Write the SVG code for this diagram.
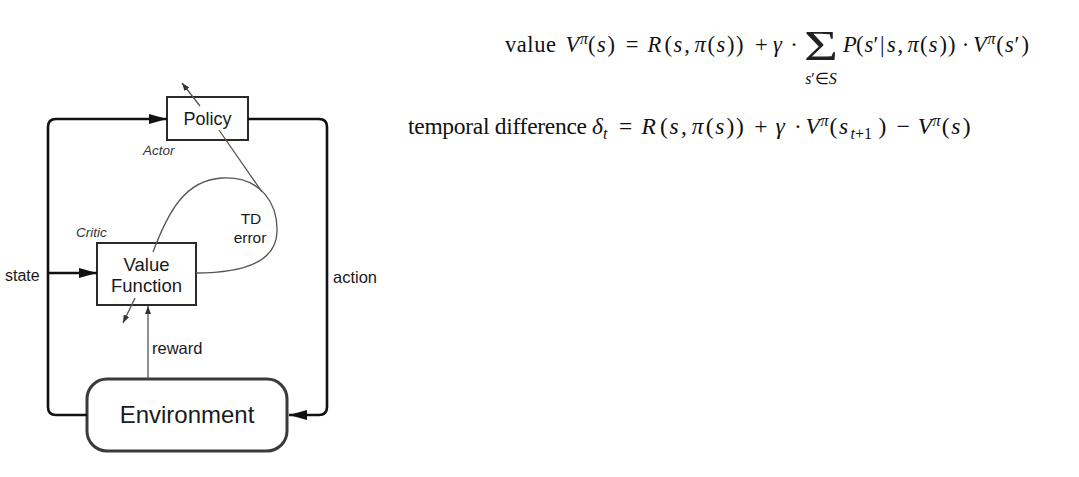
<svg xmlns="http://www.w3.org/2000/svg" width="1079" height="477" viewBox="0 0 1079 477">
<style>
.lbl{font-family:"Liberation Sans",Arial,sans-serif;fill:#1a1a1a}
.cap{font-family:"Liberation Sans",Arial,sans-serif;font-style:italic;fill:#333;font-size:13.5px}
.box{fill:#fff;stroke:#2a2a2a;stroke-width:2}
.env{fill:#fff;stroke:#3a3a3a;stroke-width:3}
.main{fill:none;stroke:#111;stroke-width:2.6;stroke-linejoin:round}
.thin{fill:none;stroke:#555;stroke-width:1.3}
.m{font-family:"Liberation Serif","Times New Roman",serif;font-size:22.5px;fill:#111}
.m2{font-family:"Liberation Serif","Times New Roman",serif;font-size:23.5px;fill:#111}
.sig{font-family:"Liberation Serif","Times New Roman",serif;font-size:43px;fill:#222}
.it{font-style:italic}
.sm{font-size:16px}
</style>
<defs>
<marker id="big" markerUnits="userSpaceOnUse" markerWidth="18" markerHeight="10" refX="18" refY="5" orient="auto">
<path d="M0,0 L18,5 L0,10 Z" fill="#111"/>
</marker>
<marker id="small" markerUnits="userSpaceOnUse" markerWidth="8" markerHeight="6" refX="8" refY="3" orient="auto">
<path d="M0,0 L8,3 L0,6 Z" fill="#333"/>
</marker>
</defs>
<rect width="1079" height="477" fill="#fff"/>

<g id="policy">
<rect class="box" x="167" y="97" width="81" height="43"/>
<text class="lbl" x="207.5" y="125" font-size="18" text-anchor="middle">Policy</text>
<text class="cap" x="143" y="155">Actor</text>
</g>

<g id="value-function">
<rect class="box" x="97" y="243" width="99" height="62"/>
<text class="lbl" x="146.5" y="271" font-size="18.5" text-anchor="middle">Value</text>
<text class="lbl" x="146.5" y="292" font-size="18.5" text-anchor="middle">Function</text>
<text class="cap" x="76" y="237">Critic</text>
</g>

<g id="environment">
<rect class="env" x="87" y="379" width="200" height="72" rx="20" ry="20"/>
<text class="lbl" x="187" y="423" font-size="24" text-anchor="middle">Environment</text>
</g>

<g id="connectors">
<path class="main" d="M87,415 H56 Q48,415 48,407 V127 Q48,119 56,119 H167" marker-end="url(#big)"/>
<path class="main" d="M48,273 H97" marker-end="url(#big)"/>
<path class="main" d="M248,119 H319 Q327,119 327,127 V407 Q327,415 319,415 H289" marker-end="url(#big)"/>
<path class="thin" d="M148,379 V306" marker-end="url(#small)"/>
<path class="thin" d="M200,106 L182,83" marker-end="url(#small)"/>
<path class="thin" d="M135,298 L123,323" marker-end="url(#small)"/>
<path class="thin" d="M219,130 L262,192"/>
<path class="thin" d="M153,252 C168,212 185,180 222,178 C262,176 278,205 277,232 C276,262 245,273 196,273"/>
<text class="lbl" x="5" y="281" font-size="16">state</text>
<text class="lbl" x="333" y="283" font-size="16.5">action</text>
<text class="lbl" x="152" y="354" font-size="16.5">reward</text>
<text class="lbl" x="251" y="224" font-size="15.5" text-anchor="middle">TD</text>
<text class="lbl" x="250" y="243" font-size="15.5" text-anchor="middle">error</text>
</g>

<g id="formula-value">
<text class="m" x="505" y="52" textLength="51" lengthAdjust="spacing">value</text>
<text class="m" y="52"><tspan class="it" x="565.4" y="52">V</tspan><tspan class="it sm" x="580" y="44">π</tspan><tspan x="588" y="52">(</tspan><tspan class="it" x="597" y="52">s</tspan><tspan x="607.6" y="52">)</tspan><tspan x="625.7" y="52">=</tspan><tspan class="it" x="647.5" y="52">R</tspan><tspan x="664.5" y="52">(</tspan><tspan class="it" x="673.5" y="52">s</tspan><tspan x="684.2" y="52">,</tspan><tspan class="it" x="694.4" y="52">π</tspan><tspan x="707.5" y="52">(</tspan><tspan class="it" x="716.4" y="52">s</tspan><tspan x="727.1" y="52">)</tspan><tspan x="736.1" y="52">)</tspan><tspan x="755" y="52">+</tspan><tspan class="it" x="773" y="52">γ</tspan><tspan x="790.2" y="52">·</tspan><tspan class="it" x="843" y="52">P</tspan><tspan x="856" y="52">(</tspan><tspan class="it" x="864.5" y="52">s</tspan><tspan x="873.5" y="52">′</tspan><tspan x="880" y="52">|</tspan><tspan class="it" x="887" y="52">s</tspan><tspan x="897.5" y="52">,</tspan><tspan class="it" x="907.4" y="52">π</tspan><tspan x="920" y="52">(</tspan><tspan class="it" x="928.8" y="52">s</tspan><tspan x="939.4" y="52">)</tspan><tspan x="948.1" y="52">)</tspan><tspan x="961.7" y="52">·</tspan><tspan class="it" x="973" y="52">V</tspan><tspan class="it sm" x="987.6" y="44">π</tspan><tspan x="996.2" y="52">(</tspan><tspan class="it" x="1005.1" y="52">s</tspan><tspan x="1014.5" y="52">′</tspan><tspan x="1021.5" y="52">)</tspan></text>
<text class="sig" x="804" y="60" textLength="34" lengthAdjust="spacingAndGlyphs">Σ</text>
<text class="m sm" x="821" y="84" text-anchor="middle"><tspan class="it">s</tspan>′∈<tspan class="it">S</tspan></text>
</g>

<g id="formula-td">
<text class="m2" x="408" y="134" textLength="179" lengthAdjust="spacing">temporal difference</text>
<text class="m2" y="134"><tspan class="it" x="592" y="134">δ</tspan><tspan class="it sm" x="603" y="139">t</tspan><tspan x="619" y="134">=</tspan><tspan class="it" x="641.5" y="134">R</tspan><tspan x="660" y="134">(</tspan><tspan class="it" x="669.5" y="134">s</tspan><tspan x="680.9" y="134">,</tspan><tspan class="it" x="691.8" y="134">π</tspan><tspan x="705.7" y="134">(</tspan><tspan class="it" x="715.2" y="134">s</tspan><tspan x="726.6" y="134">)</tspan><tspan x="736.1" y="134">)</tspan><tspan x="754.3" y="134">+</tspan><tspan class="it" x="775.4" y="134">γ</tspan><tspan x="794" y="134">·</tspan><tspan class="it" x="805.6" y="134">V</tspan><tspan class="it sm" x="820.5" y="126">π</tspan><tspan x="829.6" y="134">(</tspan><tspan class="it" x="839.1" y="134">s</tspan><tspan class="it sm" x="850.5" y="139">t</tspan><tspan class="sm" y="139">+1</tspan><tspan x="878.5" y="134">)</tspan><tspan x="896.5" y="134">−</tspan><tspan class="it" x="917.8" y="134">V</tspan><tspan class="it sm" x="932.5" y="126">π</tspan><tspan x="941.8" y="134">(</tspan><tspan class="it" x="951.3" y="134">s</tspan><tspan x="962.7" y="134">)</tspan></text>
</g>
</svg>
